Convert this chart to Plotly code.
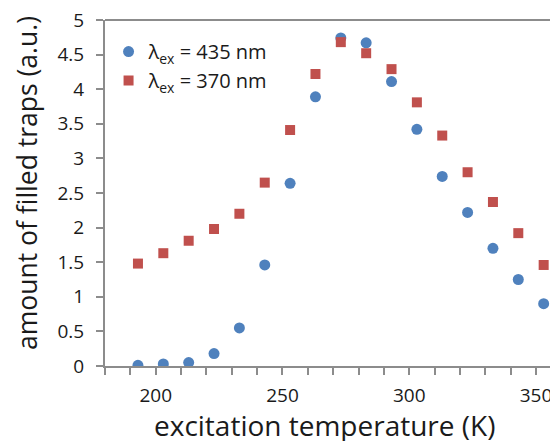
import plotly.graph_objects as go

temperature = [193, 203, 213, 223, 233, 243, 253, 263, 273, 283, 293, 303, 313, 323, 333, 343, 353]
traps_435 = [0.01, 0.03, 0.05, 0.18, 0.55, 1.46, 2.64, 3.89, 4.74, 4.67, 4.11, 3.42, 2.74, 2.22, 1.70, 1.25, 0.90]
traps_370 = [1.48, 1.63, 1.81, 1.98, 2.20, 2.65, 3.41, 4.22, 4.68, 4.52, 4.29, 3.81, 3.33, 2.80, 2.37, 1.92, 1.46]
y_ticks = [0, 0.5, 1, 1.5, 2, 2.5, 3, 3.5, 4, 4.5, 5]
y_tick_labels = ["0", "0.5", "1", "1.5", "2", "2.5", "3", "3.5", "4", "4.5", "5"]
x_ticks = [200, 250, 300, 350]

FONT = "Open Sans"
TXT = "#1a1a1a"
AXIS_COLOR = "#8c8c8c"

fig = go.Figure()
fig.add_trace(go.Scatter(
    x=temperature, y=traps_435, mode="markers",
    name="λ<sub>ex</sub> = 435 nm",
    marker=dict(symbol="circle", size=11, color="#4f81bd"),
))
fig.add_trace(go.Scatter(
    x=temperature, y=traps_370, mode="markers",
    name="λ<sub>ex</sub> = 370 nm",
    marker=dict(symbol="square", size=10, color="#c0504d"),
))

plot_w = 550 - 105
plot_h = 441 - 20 - 75

fig.update_layout(
    width=550, height=441,
    margin=dict(l=105, r=0, t=20, b=75, autoexpand=False),
    paper_bgcolor="white", plot_bgcolor="white",
    font=dict(family=FONT, color=TXT),
    showlegend=True,
    legend=dict(
        x=0.008, y=0.965, xanchor="left", yanchor="top",
        font=dict(family=FONT, size=20, color=TXT),
        bgcolor="rgba(0,0,0,0)", tracegroupgap=0,
        itemwidth=30,
    ),
    annotations=[
        dict(text="excitation temperature (K)", xref="paper", yref="paper",
             x=(324 - 105) / plot_w, y=(366 - 425) / plot_h, xanchor="center", yanchor="middle",
             showarrow=False, font=dict(family=FONT, size=28, color=TXT)),
        dict(text="amount of filled traps (a.u.)", textangle=-90, xref="paper", yref="paper",
             x=(27 - 105) / plot_w, y=(366 - 183) / plot_h, xanchor="center", yanchor="middle",
             showarrow=False, font=dict(family=FONT, size=26.5, color=TXT)),
    ],
    shapes=[
        dict(type="line", xref="paper", yref="paper", x0=0, x1=1, y0=1, y1=1,
             line=dict(color=AXIS_COLOR, width=2), layer="above"),
    ],
)

fig.update_xaxes(
    range=[180, 355.5], automargin=False,
    tickmode="array", tickvals=x_ticks,
    ticks="outside", ticklen=7, tickcolor=AXIS_COLOR, tickwidth=2,
    minor=dict(dtick=10, tick0=180, ticks="outside", ticklen=7, tickcolor=AXIS_COLOR, tickwidth=2),
    showline=True, linecolor=AXIS_COLOR, linewidth=2,
    showgrid=False, zeroline=False,
    tickfont=dict(family=FONT, size=19, color=TXT),
    ticklabelstandoff=4, ticklabeloverflow="allow",
)
fig.update_yaxes(
    range=[0, 5], automargin=False,
    tickmode="array", tickvals=y_ticks, ticktext=y_tick_labels,
    ticks="outside", ticklen=7, tickcolor=AXIS_COLOR, tickwidth=2,
    showline=True, linecolor=AXIS_COLOR, linewidth=2,
    showgrid=False, zeroline=False,
    tickfont=dict(family=FONT, size=19, color=TXT),
    ticklabelstandoff=8, ticklabeloverflow="allow",
)

fig.write_html("out.html", config={"displayModeBar": False},
               post_script="document.body.style.margin='0';document.body.style.overflow='hidden';")
